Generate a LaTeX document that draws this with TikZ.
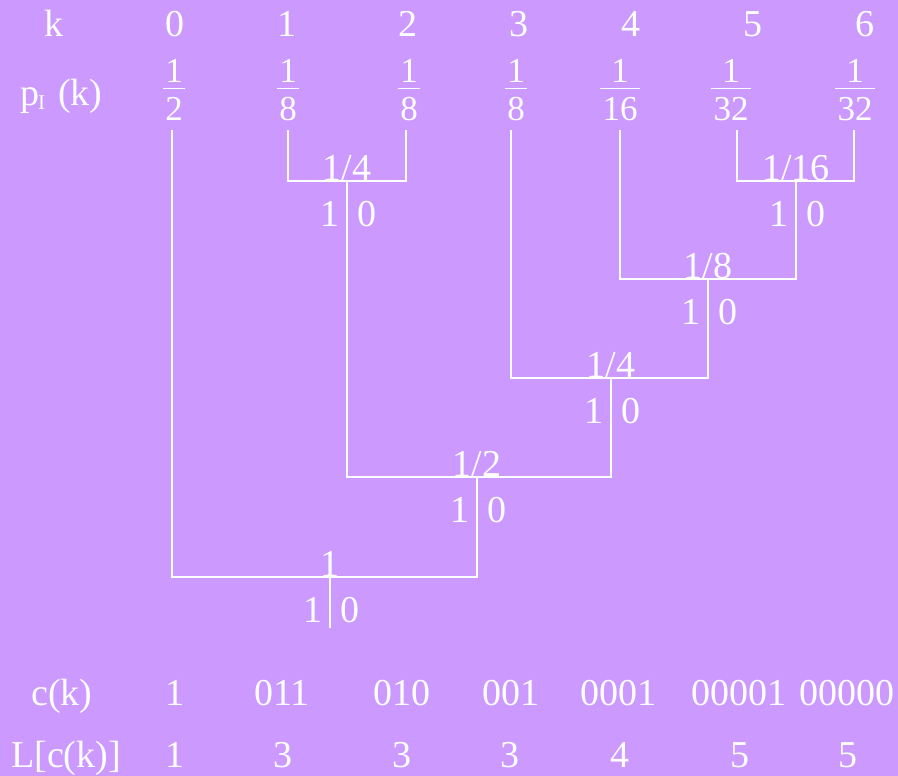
\documentclass[tikz,border=0pt]{standalone}
\usepackage{fontspec}
\setmainfont{Liberation Serif}
\definecolor{bgpurple}{RGB}{204,153,255}
\begin{document}
\begin{tikzpicture}[x=1pt,y=-1pt,
  txt/.style={text=white,inner sep=0pt,font=\fontsize{38}{42}\selectfont},
  frtxt/.style={text=white,inner sep=0pt,font=\fontsize{35}{38}\selectfont,anchor=base},
  tree/.style={draw=white,line width=2pt},
  fbar/.style={draw=white,line width=1.5pt}]
\path[use as bounding box,fill=bgpurple] (0,0) rectangle (898,776);

% header row
\node[txt,anchor=base] (hk) at (54,37) {k};
\foreach \v/\x in {0/175,1/287,2/408,3/519,4/631,5/753,6/865}
  \node[txt,anchor=base] (h\v) at (\x,37) {\v};

% p_I(k)
\node[txt,anchor=base west] (hp) at (20,106) {p\hspace{-1pt}\raisebox{-4pt}{\fontsize{21}{22}\selectfont I}\hspace{13pt}(k)};

% fractions
\foreach \i/\x/\d in {0/174/2,1/288/8,2/409/8,3/516/8,4/620/16,5/731/32,6/855/32}{
  \node[frtxt] (fn\i) at (\x,83) {1};
  \node[frtxt] (fd\i) at (\x,121) {\d};
  \draw[fbar] ([xshift=-2pt,yshift=9pt]fd\i.north west) -- ([xshift=2pt,yshift=9pt]fd\i.north east);
}

% tree coordinates
\coordinate (l0) at (172,130);
\coordinate (l1) at (288,130);
\coordinate (l2) at (406,130);
\coordinate (l3) at (511,130);
\coordinate (l4) at (620,130);
\coordinate (l5) at (737,130);
\coordinate (l6) at (854,130);
\coordinate (j1) at (347,181);
\coordinate (j2) at (796,181);
\coordinate (j3) at (708,279);
\coordinate (j4) at (611,378);
\coordinate (j5) at (477,477);
\coordinate (j6) at (330,577);
\coordinate (r) at (330,628);

\draw[tree] (l1) |- (j1) -| (l2);
\draw[tree] (l5) |- (j2) -| (l6);
\draw[tree] (l4) |- (j3) -| (j2);
\draw[tree] (l3) |- (j4) -| (j3);
\draw[tree] (j1) |- (j5) -| (j4);
\draw[tree] (l0) |- (j6) -| (j5);
\draw[tree] (j6) -- (r);

% junction labels
\foreach \j/\t in {j1/1\slash 4,j2/1\slash 16,j3/1\slash 8,j4/1\slash 4,j5/1\slash 2,j6/1}{
  \node[txt,anchor=base] (\j p) at ([yshift=1pt]\j) {\t};
  \node[txt,anchor=base east] (\j a) at ([xshift=-7pt,yshift=-45pt]\j) {1};
  \node[txt,anchor=base west] (\j b) at ([xshift=10pt,yshift=-45pt]\j) {0};
}

% code rows
\node[txt,anchor=base] (ck) at (62,705) {c(k)};
\foreach \i/\x/\c in {0/175/1,1/282/011,2/402/010,3/511/001,4/618/0001,5/739/00001,6/847/00000}
  \node[txt,anchor=base] (c\i) at (\x,705) {\c};
\node[txt,anchor=base] (lk) at (66,767) {L[c(k)]};
\foreach \i/\x/\c in {0/175/1,1/283/3,2/402/3,3/510/3,4/620/4,5/740/5,6/848/5}
  \node[txt,anchor=base] (n\i) at (\x,767) {\c};
\end{tikzpicture}
\end{document}
